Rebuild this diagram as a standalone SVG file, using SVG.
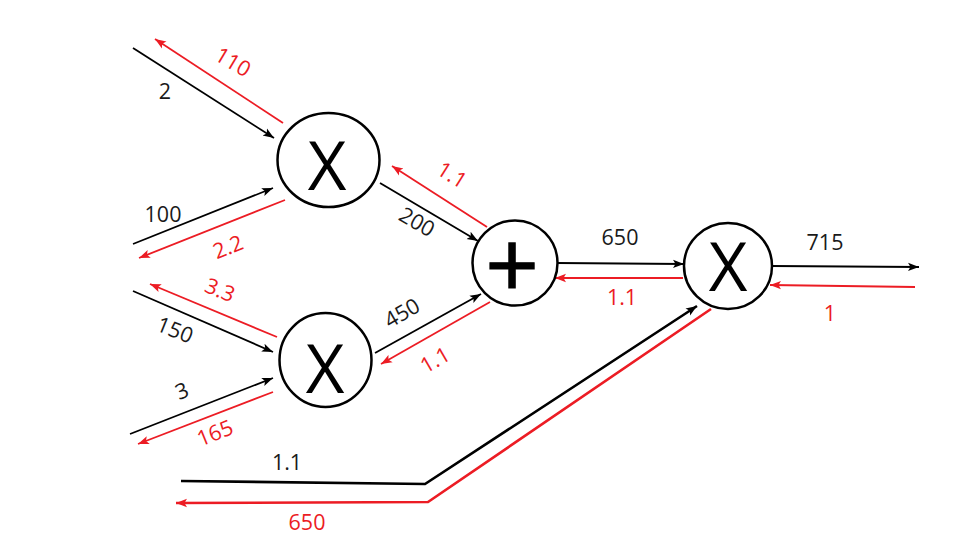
<svg xmlns="http://www.w3.org/2000/svg" width="976" height="557" viewBox="0 0 976 557">
<defs>
<marker id="ab" markerUnits="userSpaceOnUse" markerWidth="12" markerHeight="10" refX="11" refY="5" orient="auto"><path d="M0,0.8 L11,5 L0,9.2 L2.5,5 Z" fill="#000"/></marker>
<marker id="ar" markerUnits="userSpaceOnUse" markerWidth="12" markerHeight="10" refX="11" refY="5" orient="auto"><path d="M0,0.8 L11,5 L0,9.2 L2.5,5 Z" fill="#ec1c24"/></marker>
<style>
.n{fill:#fff;stroke:#000;stroke-width:2.5}
.op{font-family:"Open Sans","Liberation Sans",sans-serif;font-size:67px;fill:#000;text-anchor:middle}
.b{stroke:#000;stroke-width:1.8;fill:none;marker-end:url(#ab)}
.r{stroke:#ec1c24;stroke-width:1.8;fill:none;marker-end:url(#ar)}
.lb{font-family:"Open Sans","Liberation Sans",sans-serif;font-size:21.5px;fill:#1a1a1a;text-anchor:middle}
.lr{font-family:"Open Sans","Liberation Sans",sans-serif;font-size:21.5px;fill:#ec1c24;text-anchor:middle}
</style>
</defs>
<rect width="976" height="557" fill="#fff"/>
<g id="connectors">
<line class="b" x1="133" y1="48" x2="274" y2="138"/>
<line class="r" x1="283" y1="123" x2="155" y2="39"/>
<line class="b" x1="133" y1="244" x2="273" y2="188"/>
<line class="r" x1="285" y1="200" x2="139" y2="258"/>
<line class="b" x1="133" y1="291" x2="273" y2="352"/>
<line class="r" x1="277" y1="337" x2="150" y2="284"/>
<line class="b" x1="130" y1="434" x2="273" y2="378"/>
<line class="r" x1="273" y1="392" x2="138" y2="444"/>
<line class="b" x1="380" y1="183" x2="478" y2="241"/>
<line class="r" x1="487" y1="227" x2="392" y2="166"/>
<line class="b" x1="375" y1="353" x2="481" y2="294"/>
<line class="r" x1="490" y1="302" x2="381" y2="364"/>
<line class="b" x1="557" y1="263" x2="684" y2="264"/>
<line class="r" x1="683" y1="278" x2="555" y2="278"/>
<line class="b" x1="772" y1="266" x2="919" y2="267"/>
<line class="r" x1="915" y1="287" x2="770" y2="285"/>
<polyline class="b" style="stroke-width:2.6" points="181,481 425,484 697,306"/>
<polyline class="r" style="stroke-width:2.6" points="711,309 428,502 176,503"/>
</g>
<g id="mul1"><ellipse class="n" cx="328.5" cy="160" rx="51" ry="47"/><text class="op" x="327" y="190">X</text></g>
<g id="mul2"><ellipse class="n" cx="325.5" cy="360" rx="46" ry="47"/><text class="op" x="325" y="393">X</text></g>
<g id="add"><circle class="n" cx="515" cy="263" r="42.5"/><text class="op" x="512" y="299" style="font-size:94px;stroke:#000;stroke-width:1.2">+</text></g>
<g id="mul3"><ellipse class="n" cx="728" cy="266" rx="44" ry="43"/><text class="op" x="728" y="291">X</text></g>
<g id="labels">
<text class="lb" x="165" y="99">2</text>
<text class="lr" transform="translate(233,62) rotate(31)" y="7.5">110</text>
<text class="lb" x="163" y="222">100</text>
<text class="lr" transform="translate(228,247) rotate(-22)" y="7.5">2.2</text>
<text class="lr" transform="translate(220,290) rotate(22)" y="7.5">3.3</text>
<text class="lb" transform="translate(175,330) rotate(22)" y="7.5">150</text>
<text class="lb" transform="translate(182,391) rotate(-22)" y="7.5">3</text>
<text class="lr" transform="translate(215,433) rotate(-22)" y="7.5">165</text>
<text class="lr" transform="translate(452,175) rotate(32)" y="7.5">1.1</text>
<text class="lb" transform="translate(417,222) rotate(30)" y="7.5">200</text>
<text class="lb" transform="translate(402,313) rotate(-30)" y="7.5">450</text>
<text class="lr" transform="translate(435,360) rotate(-30)" y="7.5">1.1</text>
<text class="lb" x="620" y="245">650</text>
<text class="lr" x="622" y="305">1.1</text>
<text class="lb" x="825" y="250">715</text>
<text class="lr" x="830" y="321">1</text>
<text class="lb" x="287" y="470">1.1</text>
<text class="lr" x="307" y="530">650</text>
</g>
</svg>
